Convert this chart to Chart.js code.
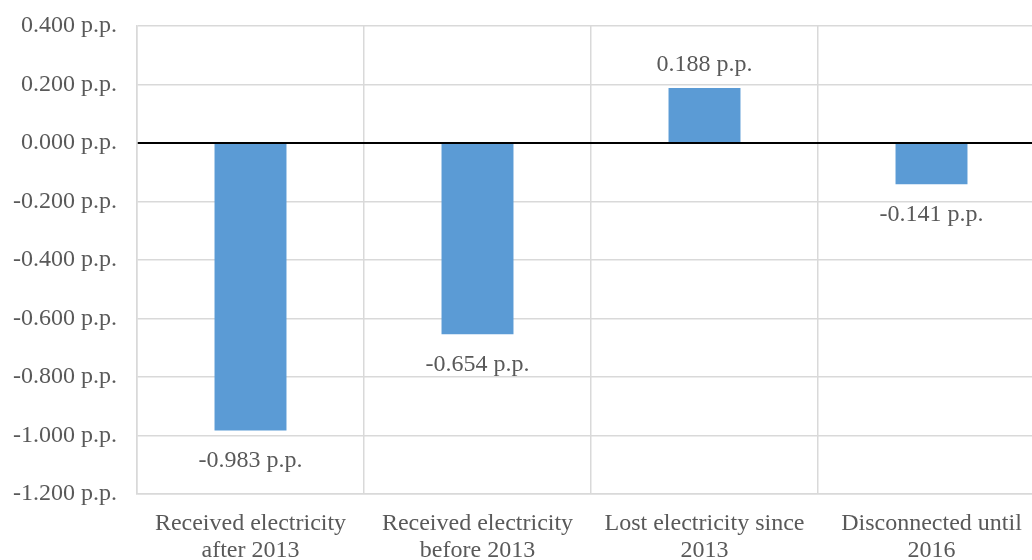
<!DOCTYPE html>
<html>
<head>
<meta charset="utf-8">
<script src="https://cdn.jsdelivr.net/npm/chart.js@4/dist/chart.umd.min.js"></script>
<style>
  html, body { margin: 0; padding: 0; background: #fff; overflow: hidden; }
  #wrap { position: relative; width: 1060px; height: 560px; }
</style>
</head>
<body>
<div id="wrap"><canvas id="chart"></canvas></div>
<script>
'use strict';

// Change in share, percentage points
const categories = [
  ['Received electricity', 'after 2013'],
  ['Received electricity', 'before 2013'],
  ['Lost electricity since', '2013'],
  ['Disconnected until', '2016'],
];
const values = [-0.983, -0.654, 0.188, -0.141];
const yMin = -1.2, yMax = 0.4, yStep = 0.2;

const FONT = 'Liberation Serif';
const TXT = '#595959';

const fmtPP = (v) => (Math.abs(v) < 1e-9 ? 0 : v).toFixed(3) + ' p.p.';

// value labels under negative bars, above positive ones
const barLabels = {
  id: 'barLabels',
  afterDatasetsDraw(chart) {
    const { ctx } = chart;
    const meta = chart.getDatasetMeta(0);
    ctx.save();
    ctx.font = `24px "${FONT}"`;
    ctx.fillStyle = TXT;
    ctx.textAlign = 'center';
    ctx.textBaseline = 'middle';
    meta.data.forEach((bar, i) => {
      const v = values[i];
      const y = v < 0 ? bar.y + 30 : bar.y - 23;
      ctx.fillText(fmtPP(v), bar.x, y);
    });
    ctx.restore();
  }
};

new Chart(document.getElementById('chart'), {
  type: 'bar',
  data: {
    labels: categories,
    datasets: [{
      data: values,
      backgroundColor: '#5b9bd5',
      borderWidth: 0,
      barPercentage: 0.317,
      categoryPercentage: 1,
    }],
  },
  plugins: [barLabels],
  options: {
    responsive: true, maintainAspectRatio: false, animation: false,
    layout: { padding: { top: 26, right: 15, left: 0, bottom: 0 } },
    plugins: { legend: { display: false }, tooltip: { enabled: false } },
    scales: {
      x: {
        grid: { color: '#d9d9d9', lineWidth: 1.5, drawTicks: false, offset: true },
        border: { color: '#d9d9d9', width: 1.5 },
        ticks: { color: TXT, font: { family: FONT, size: 24, lineHeight: 1.13 }, padding: 16, maxRotation: 0, autoSkip: false },
        afterFit: (s) => { s.height = 66; },
      },
      y: {
        min: yMin, max: yMax,
        grid: {
          color: (c) => (c.tick && Math.abs(c.tick.value) < 1e-9 ? '#000000' : '#d9d9d9'),
          lineWidth: (c) => (c.tick && Math.abs(c.tick.value) < 1e-9 ? 2 : 1.5),
          drawTicks: false,
        },
        border: { color: '#d9d9d9', width: 1.5 },
        ticks: { stepSize: yStep, color: TXT, font: { family: FONT, size: 24 }, padding: 20, callback: (v) => fmtPP(v) },
        afterFit: (s) => { s.width = 137; s.paddingTop = 0; s.paddingBottom = 0; },
      },
    },
  },
});
</script>
</body>
</html>
